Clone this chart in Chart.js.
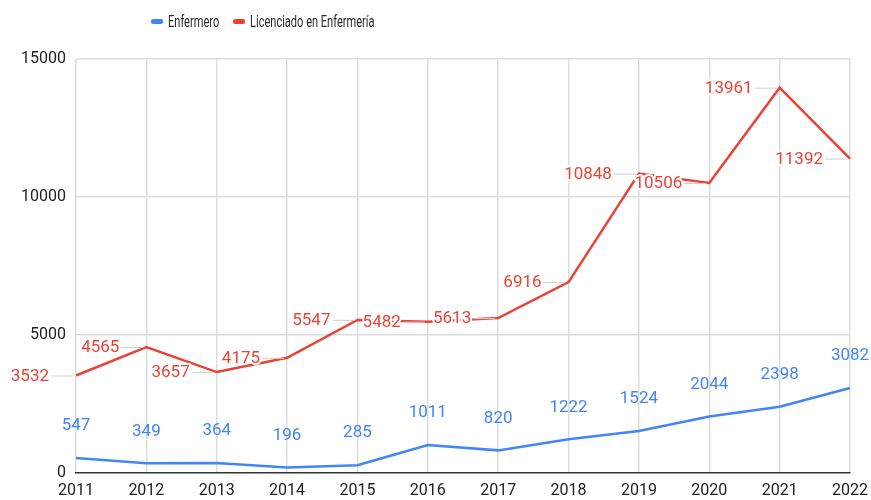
<!DOCTYPE html>
<html>
<head>
<meta charset="utf-8">
<script src="https://cdn.jsdelivr.net/npm/chart.js@4.4.0/dist/chart.umd.min.js"></script>
<style>
  html, body { margin: 0; padding: 0; background: #fff; }
  #wrap { position: relative; width: 871px; height: 500px; }
  #legend { position: absolute; left: 0; top: 0; width: 871px; height: 40px; font-family: Roboto, sans-serif; color: #2a2a2a; }
  .sw { position: absolute; width: 12px; height: 5px; border-radius: 2px; top: 19px; }
  .lt { position: absolute; top: 11px; font-size: 17px; line-height: 20px; white-space: nowrap; transform: scaleX(0.65); transform-origin: left center; }
</style>
</head>
<body>
<div id="wrap">
  <canvas id="c" width="871" height="500"></canvas>
  <div id="legend">
    <div class="sw" style="left:151px;background:#4285F4"></div>
    <div class="lt" style="left:168px">Enfermero</div>
    <div class="sw" style="left:233px;background:#EA4335"></div>
    <div class="lt" style="left:250px">Licenciado en Enfermería</div>
  </div>
</div>
<script>
const years = ['2011','2012','2013','2014','2015','2016','2017','2018','2019','2020','2021','2022'];
const enfermero = [547, 349, 364, 196, 285, 1011, 820, 1222, 1524, 2044, 2398, 3082];
const licenciado = [3532, 4565, 3657, 4175, 5547, 5482, 5613, 6916, 10848, 10506, 13961, 11392];
const seriesNames = ['Enfermero', 'Licenciado en Enfermería'];
const yMin = 0, yMax = 15000, yStep = 5000;

const labelPlugin = {
  id: 'valueLabels',
  afterDatasetsDraw(chart) {
    const ctx = chart.ctx;
    ctx.save();
    ctx.font = '17px Roboto, sans-serif';
    ctx.textBaseline = 'middle';
    const m0 = chart.getDatasetMeta(0);
    ctx.textAlign = 'center';
    ctx.fillStyle = '#4285F4';
    m0.data.forEach((p, i) => {
      ctx.fillText(String(chart.data.datasets[0].data[i]), p.x, p.y - 32);
    });
    const m1 = chart.getDatasetMeta(1);
    m1.data.forEach((p) => {
      ctx.strokeStyle = '#d0d0d0';
      ctx.lineWidth = 1;
      ctx.beginPath();
      ctx.moveTo(p.x - 25, p.y + 0.5);
      ctx.lineTo(p.x - 3, p.y + 0.5);
      ctx.stroke();
    });
    ctx.textAlign = 'right';
    m1.data.forEach((p, i) => {
      const t = String(chart.data.datasets[1].data[i]);
      ctx.strokeStyle = '#ffffff';
      ctx.lineWidth = 4;
      ctx.lineJoin = 'round';
      ctx.strokeText(t, p.x - 27, p.y + 1);
      ctx.fillStyle = '#EA4335';
      ctx.fillText(t, p.x - 27, p.y + 1);
    });
    ctx.restore();
  }
};

new Chart(document.getElementById('c'), {
  type: 'line',
  data: {
    labels: years,
    datasets: [
      { label: seriesNames[0], data: enfermero, borderColor: '#4285F4', backgroundColor: '#4285F4', borderWidth: 2.5, pointRadius: 0, tension: 0 },
      { label: seriesNames[1], data: licenciado, borderColor: '#EA4335', backgroundColor: '#EA4335', borderWidth: 2.5, pointRadius: 0, tension: 0 }
    ]
  },
  options: {
    responsive: false,
    animation: false,
    events: [],
    layout: { padding: { top: 59, right: 21, left: 0, bottom: 0 } },
    plugins: { legend: { display: false }, tooltip: { enabled: false } },
    scales: {
      x: {
        offset: false,
        grid: { color: '#dddddd', lineWidth: 1.5, drawTicks: false },
        border: { display: true, color: '#333333', width: 1.5 },
        ticks: { color: '#222', font: { family: 'Roboto', size: 16 }, padding: 8, maxRotation: 0, autoSkip: false },
        afterFit: s => { s.height = 27; s.paddingLeft = 0; s.paddingRight = 0; }
      },
      y: {
        min: yMin, max: yMax,
        grid: { color: c => (c.tick && c.tick.value === 0) ? 'rgba(0,0,0,0)' : '#dddddd', lineWidth: 1.5, drawTicks: false },
        border: { display: false },
        ticks: { stepSize: yStep, color: '#222', font: { family: 'Roboto', size: 16 }, padding: 10, callback: v => String(v) },
        afterFit: s => { s.width = 76; s.paddingTop = 0; s.paddingBottom = 0; }
      }
    }
  },
  plugins: [labelPlugin]
});
</script>
</body>
</html>
